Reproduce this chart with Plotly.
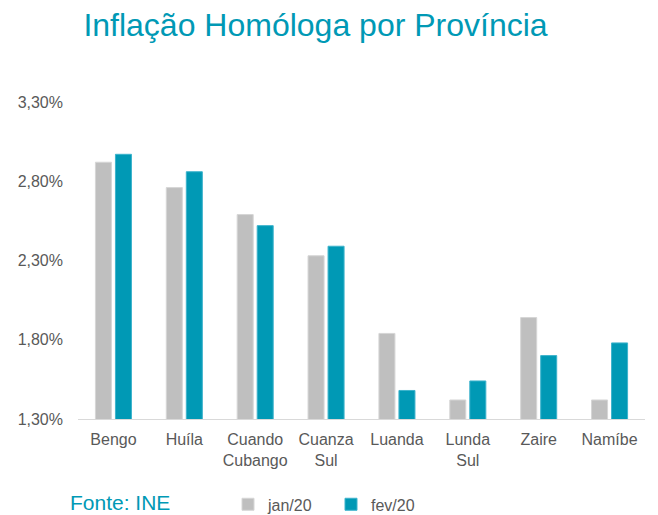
import plotly.graph_objects as go

categories = ["Bengo", "Huíla", "Cuando<br>Cubango", "Cuanza<br>Sul", "Luanda", "Lunda<br>Sul", "Zaire", "Namíbe"]
jan20 = [2.92, 2.76, 2.59, 2.33, 1.84, 1.42, 1.94, 1.42]
fev20 = [2.97, 2.86, 2.52, 2.39, 1.48, 1.54, 1.70, 1.78]
series_names = ["jan/20", "fev/20"]
tick_vals = [1.30, 1.80, 2.30, 2.80, 3.30]
tick_text = ["1,30%", "1,80%", "2,30%", "2,80%", "3,30%"]

GRAY = "#BFBFBF"
TEAL = "#0099B5"
FONT = "Liberation Sans, Arial, sans-serif"

fig = go.Figure()
fig.add_trace(go.Bar(x=categories, y=jan20, name=series_names[0],
                     marker=dict(color=GRAY, line=dict(color="#D6D6D6", width=1))))
fig.add_trace(go.Bar(x=categories, y=fev20, name=series_names[1],
                     marker=dict(color=TEAL, line=dict(color="#3DB3CC", width=1))))

fig.update_layout(
    width=658, height=515,
    margin=dict(l=78, r=13, t=102, b=95.5, autoexpand=False),
    paper_bgcolor="white", plot_bgcolor="white",
    barmode="group", bargap=0.435, bargroupgap=0.2,
    font=dict(family=FONT, size=16, color="#595959"),
    title=dict(text="Inflação Homóloga por Província",
               font=dict(family=FONT, size=32, color="#0099B5"),
               xref="container", x=315.5/658, xanchor="center",
               yref="container", y=1-25/515, yanchor="middle"),
    showlegend=True,
    legend=dict(orientation="h", x=(228-78)/567, xanchor="left",
                y=-(505-419.5)/317.5, yanchor="middle",
                font=dict(family=FONT, size=16, color="#595959"),
                itemwidth=30, entrywidth=58, entrywidthmode="pixels",
                bgcolor="rgba(0,0,0,0)"),
    annotations=[dict(text="Fonte: INE", xref="paper", yref="paper",
                      x=(68-78)/567, xanchor="left",
                      y=-(503-419.5)/317.5, yanchor="middle",
                      showarrow=False,
                      font=dict(family=FONT, size=21, color="#0099B5"))],
)
fig.update_yaxes(range=[1.30, 3.30], tickvals=tick_vals, ticktext=tick_text,
                 showgrid=False, zeroline=False, showline=False, automargin=False,
                 ticklabelstandoff=14, tickfont=dict(size=16, color="#595959"))
fig.update_xaxes(showline=True, linecolor="#D9D9D9", linewidth=1, automargin=False,
                 showgrid=False, ticks="", ticklabelstandoff=6,
                 tickfont=dict(size=16, color="#595959"))

fig.write_html("out.html", config={"displayModeBar": False},
               post_script="document.body.style.margin='0px';document.body.style.overflow='hidden';")
